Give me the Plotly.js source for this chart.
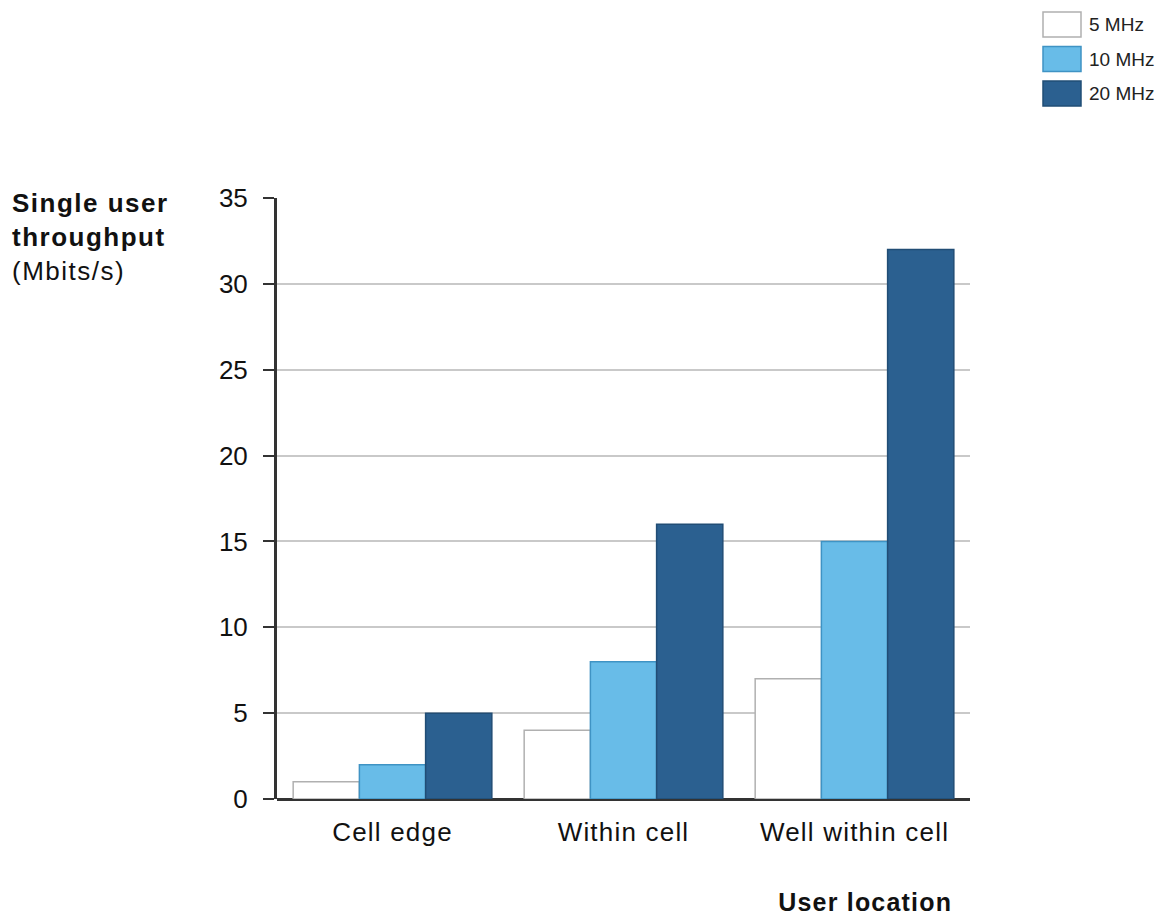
<!DOCTYPE html>
<html>
<head>
<meta charset="utf-8">
<script src="https://cdn.plot.ly/plotly-3.0.1.min.js"></script>
<style>
  html, body { margin: 0; padding: 0; background: #ffffff; }
  #chart { width: 1172px; height: 916px; }
  /* slightly wider tracking for category labels and axis titles */
  #chart .xtick text,
  #chart .annotation[data-index="4"] text { letter-spacing: 1.2px; }
  #chart .annotation[data-index="3"] text { letter-spacing: 1.5px; }
</style>
</head>
<body>
<div id="chart"></div>
<script>
// Single user throughput by location and channel bandwidth
const categories = ['Cell edge', 'Within cell', 'Well within cell'];
const seriesNames = ['5 MHz', '10 MHz', '20 MHz'];
const throughput5 = [1, 4, 7];
const throughput10 = [2, 8, 15];
const throughput20 = [5, 16, 32];
const yTicks = [0, 5, 10, 15, 20, 25, 30, 35];

const fills = ['#ffffff', '#68bce8', '#2b6090'];
const edges = ['#b0b0b0', '#3f93c4', '#214d75'];
const seriesValues = [throughput5, throughput10, throughput20];

const W = 1172, H = 916;
const M = { l: 277, r: 202, t: 198, b: 117 };
const plotW = W - M.l - M.r, plotH = H - M.t - M.b;
// pixel position -> paper coordinates
const px = x => (x - M.l) / plotW;
const py = y => (H - M.b - y) / plotH;

const font = 'Liberation Sans, Arial, sans-serif';

const traces = seriesValues.map((vals, i) => ({
  type: 'bar',
  name: seriesNames[i],
  x: categories,
  y: vals,
  marker: { color: fills[i], line: { color: edges[i], width: 1.5 } },
  hoverinfo: 'x+y+name'
}));

// Legend drawn as boxes with labels at the top right
const shapes = [];
const annotations = [];
seriesNames.forEach((name, i) => {
  const top = 12 + i * 34.5;
  shapes.push({
    type: 'rect', xref: 'paper', yref: 'paper',
    x0: px(1043), x1: px(1081), y0: py(top + 25), y1: py(top),
    fillcolor: fills[i], line: { color: edges[i], width: 1.5 }
  });
  annotations.push({
    xref: 'paper', yref: 'paper', x: px(1087), y: py(top + 12.5),
    xanchor: 'left', yanchor: 'middle', showarrow: false,
    text: name, font: { family: font, size: 19, color: '#222' }
  });
});

// Y axis title, top left
annotations.push({
  xref: 'paper', yref: 'paper', x: px(10), y: py(186),
  xanchor: 'left', yanchor: 'top', showarrow: false, align: 'left',
  text: '<b>Single user</b><br><b>throughput</b><br>(Mbits/s)',
  font: { family: font, size: 26, color: '#111' }
});
// X axis title, bottom right
annotations.push({
  xref: 'paper', yref: 'paper', x: px(865), y: py(902),
  xanchor: 'center', yanchor: 'middle', showarrow: false,
  text: '<b>User location</b>',
  font: { family: font, size: 25, color: '#111' }
});

const layout = {
  width: W, height: H,
  margin: M,
  paper_bgcolor: '#ffffff',
  plot_bgcolor: '#ffffff',
  showlegend: false,
  barmode: 'group',
  bargap: 0.14,
  bargroupgap: 0,
  font: { family: font, size: 26, color: '#111' },
  xaxis: {
    type: 'category',
    showgrid: false,
    showline: false,
    ticks: '',
    ticklabelstandoff: 15,
    tickfont: { family: font, size: 26, color: '#111' },
    zeroline: false
  },
  yaxis: {
    range: [0, 35],
    tickvals: yTicks,
    ticktext: yTicks.map(String),
    showgrid: true,
    gridcolor: '#c9c9c9',
    gridwidth: 2,
    showline: true,
    linecolor: '#333',
    linewidth: 3,
    ticks: 'outside',
    ticklen: 11,
    tickwidth: 2,
    tickcolor: '#333',
    ticklabelstandoff: 10,
    zeroline: true,
    zerolinecolor: '#333',
    zerolinewidth: 3,
    tickfont: { family: font, size: 26, color: '#111' }
  },
  shapes: shapes,
  annotations: annotations
};

Plotly.newPlot('chart', traces, layout, { displayModeBar: false, staticPlot: true });
</script>
</body>
</html>
